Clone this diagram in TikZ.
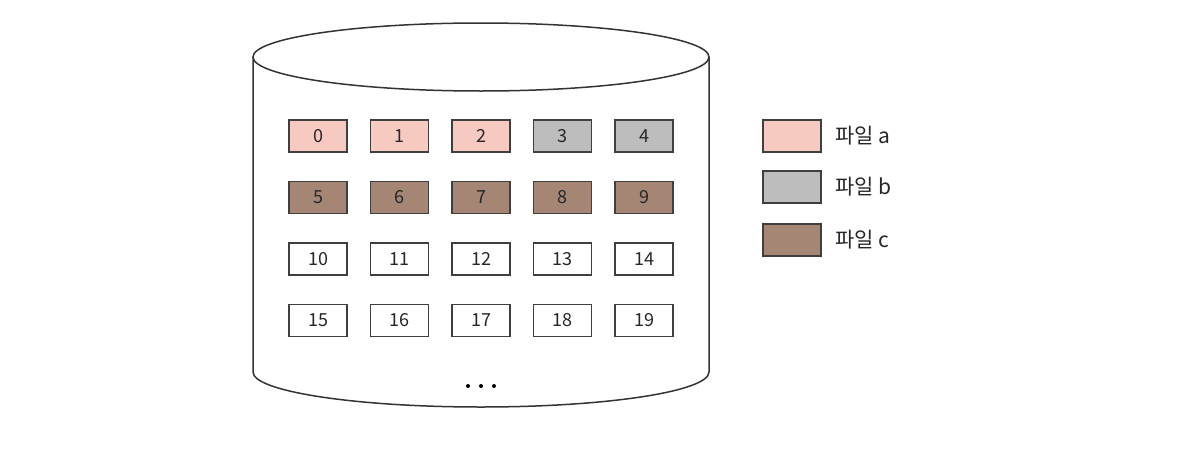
\documentclass[tikz,border=0pt]{standalone}
\usepackage{fontspec}
\setmainfont{Noto Sans CJK KR}
\definecolor{filea}{HTML}{F6C9C1}
\definecolor{fileb}{HTML}{BDBDBD}
\definecolor{filec}{HTML}{A58675}
\definecolor{edge}{HTML}{3F3F3F}
\begin{document}
\begin{tikzpicture}[x=1pt,y=-1pt,
  cell/.style={draw=edge,line width=1.8pt,minimum width=58pt,minimum height=32pt,inner sep=0pt,font=\fontsize{18}{21}\selectfont,text=black!85},
  legtext/.style={anchor=west,font=\fontsize{21}{25}\selectfont,text=black!85},
  cyl/.style={draw=black!80,line width=1.5pt}]
\useasboundingbox (0,0) rectangle (1198,466);
% cylinder
\draw[cyl,fill=white] (253,57) -- (253,372) arc[start angle=180,end angle=0,x radius=228,y radius=35] -- (709,57);
\draw[cyl] (481,57) ellipse[x radius=228,y radius=34];
% cells
\foreach \n/\c [count=\i from 0] in {0/filea,1/filea,2/filea,3/fileb,4/fileb,5/filec,6/filec,7/filec,8/filec,9/filec,10/white,11/white,12/white,13/white,14/white,15/white,16/white,17/white,18/white,19/white}{
  \pgfmathtruncatemacro{\col}{mod(\i,5)}
  \pgfmathtruncatemacro{\row}{div(\i,5)}
  \node[cell,fill=\c] (c\n) at ({318+81.5*\col},{136+61.5*\row}) {\n};
}
% dots
\foreach \k/\x in {1/468,2/481,3/494}{
  \node[circle,fill=black,inner sep=0pt,minimum size=4pt] (dot\k) at (\x,386) {};
}
% legend
\node[cell,fill=filea] (la) at (792,136) {};
\node[cell,fill=fileb] (lb) at (792,187) {};
\node[cell,fill=filec] (lc) at (792,240) {};
\node[legtext] (ta) at (832,136) {파일 a};
\node[legtext] (tb) at (832,187) {파일 b};
\node[legtext] (tc) at (832,240) {파일 c};
\end{tikzpicture}
\end{document}
